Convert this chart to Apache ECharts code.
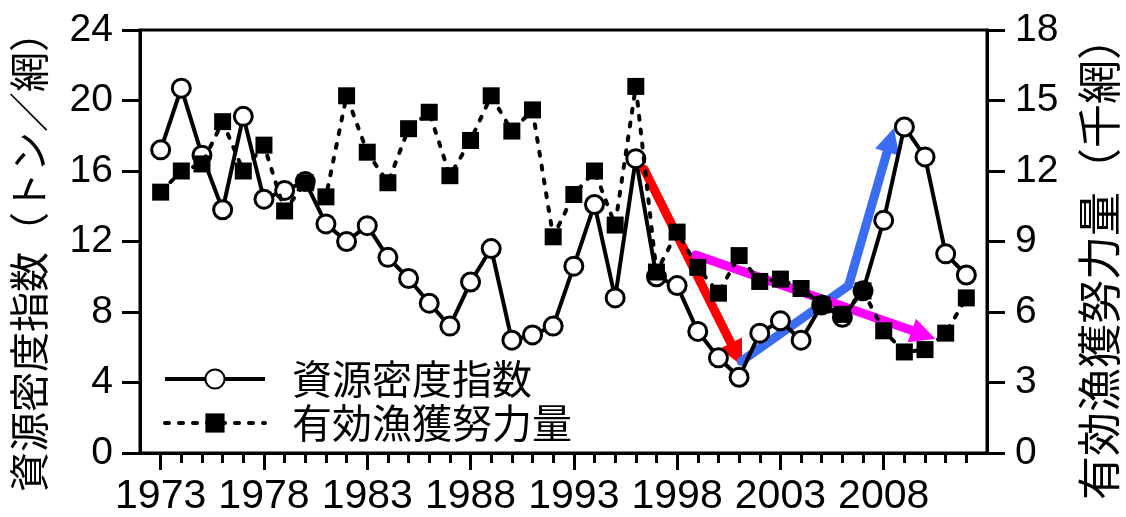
<!DOCTYPE html>
<html>
<head>
<meta charset="utf-8">
<script src="https://cdn.jsdelivr.net/npm/echarts@6/dist/echarts.min.js"></script>
<style>
  html, body { margin: 0; padding: 0; background: #fff; }
  #chart { width: 1126px; height: 517px; }
</style>
</head>
<body>
<div id="chart"></div>
<script>
// Survey years
const years = [];
for (let y = 1973; y <= 2012; y++) years.push(y);

// 資源密度指数 (トン/網)
const densityIndex = [
  17.2, 20.7, 16.9, 13.8, 19.1, 14.4, 14.9, 15.4, 13.0, 12.0,
  12.9, 11.1, 9.9, 8.5, 7.2, 9.7, 11.6, 6.4, 6.7, 7.2,
  10.6, 14.1, 8.8, 16.7, 10.0, 9.5, 6.9, 5.4, 4.3, 6.8,
  7.5, 6.4, 8.4, 7.7, 9.2, 13.2, 18.5, 16.8, 11.3, 10.1
];

// 有効漁獲努力量 (千網)
const fishingEffort = [
  11.1, 12.0, 12.3, 14.1, 12.0, 13.1, 10.3, 11.5, 10.9, 15.2,
  12.8, 11.5, 13.8, 14.5, 11.8, 13.3, 15.2, 13.7, 14.6, 9.2,
  11.0, 12.0, 9.7, 15.6, 7.7, 9.4, 7.9, 6.8, 8.4, 7.3,
  7.4, 7.0, 6.3, 5.9, 6.9, 5.2, 4.3, 4.4, 5.1, 6.6
];

// Axis ticks and labels
const yearLabels = [1973, 1978, 1983, 1988, 1993, 1998, 2003, 2008];
const densityTicks = [0, 4, 8, 12, 16, 20, 24];
const effortTicks = [0, 3, 6, 9, 12, 15, 18];

// Trend arrows, in [year, value] units
const redArrow = [[1996.4, 16.1], [2000.87, 5.6]];              // density, left axis
const blueArrowBase = [[2001.1, 5.2], [2006.3, 9.5]];           // density, left axis
const blueArrowHead = [[2006.3, 9.5], [2008.33, 17.76]];        // density, left axis
const magentaArrow = [[1998.9, 8.43], [2009.93, 5.04]];         // effort, right axis

const FONT = '"Noto Sans CJK JP", "Noto Sans", sans-serif';
const NUM_FONT = '"Liberation Sans", Arial, sans-serif';

const chart = echarts.init(document.getElementById('chart'), null, { renderer: 'canvas' });

const arrowSeries = (name, coords, color, yIdx, withHead) => ({
  name: name,
  type: 'lines',
  coordinateSystem: 'cartesian2d',
  xAxisIndex: 0,
  yAxisIndex: yIdx,
  z: 1,
  silent: true,
  symbol: ['none', withHead ? 'triangle' : 'none'],
  symbolSize: 25,
  lineStyle: { color: color, width: 9, opacity: 1, curveness: 0, cap: 'round' },
  itemStyle: { color: color },
  data: [{ coords: coords }]
});

chart.setOption({
  animation: false,
  textStyle: { fontFamily: FONT, color: '#000' },
  grid: {
    left: 140, right: 139, top: 30, bottom: 62,
    show: true, borderColor: '#000', borderWidth: 3, backgroundColor: 'transparent'
  },
  legend: {
    orient: 'vertical',
    left: 163,
    top: 358,
    padding: 0,
    itemWidth: 100,
    itemHeight: 24,
    itemGap: 2,
    data: ['資源密度指数', '有効漁獲努力量'],
    lineStyle: { width: 4 },
    textStyle: { fontFamily: FONT, fontSize: 40, color: '#000', lineHeight: 42, padding: [0, 0, 0, 22] },
    selectedMode: false
  },
  xAxis: [
    {
      type: 'value', min: 1972, max: 2013, interval: 1, position: 'bottom',
      axisLine: { show: true, lineStyle: { color: '#000', width: 3 } },
      axisTick: { show: true, inside: false, length: 10, customValues: years, lineStyle: { color: '#000', width: 3 } },
      axisLabel: { show: false },
      splitLine: { show: false }
    },
    {
      type: 'value', min: 1972, max: 2013, interval: 1, position: 'bottom',
      axisLine: { show: false },
      axisTick: { show: true, inside: false, length: 17, customValues: yearLabels, lineStyle: { color: '#000', width: 3 } },
      axisLabel: {
        show: true, customValues: yearLabels, fontSize: 41, margin: 23, color: '#000', fontFamily: NUM_FONT,
        formatter: v => String(v)
      },
      splitLine: { show: false }
    }
  ],
  yAxis: [
    {
      type: 'value', min: densityTicks[0], max: densityTicks[densityTicks.length - 1], interval: 4, position: 'left',
      axisLine: { show: true, lineStyle: { color: '#000', width: 3 } },
      axisTick: { show: true, inside: false, length: 18, lineStyle: { color: '#000', width: 3 } },
      axisLabel: { fontSize: 39, margin: 27, color: '#000', fontFamily: NUM_FONT },
      splitLine: { show: false }
    },
    {
      type: 'value', min: effortTicks[0], max: effortTicks[effortTicks.length - 1], interval: 3, position: 'right',
      axisLine: { show: true, lineStyle: { color: '#000', width: 3 } },
      axisTick: { show: true, inside: false, length: 18, lineStyle: { color: '#000', width: 3 } },
      axisLabel: { fontSize: 39, margin: 28, color: '#000', fontFamily: NUM_FONT },
      splitLine: { show: false }
    }
  ],
  graphic: [
    {
      type: 'text', x: 29, y: 252, rotation: Math.PI / 2,
      style: { text: '資源密度指数（トン／網）', fontSize: 40, fontFamily: FONT, fill: '#000', align: 'center', verticalAlign: 'middle' }
    },
    {
      type: 'text', x: 1099, y: 258, rotation: Math.PI / 2,
      style: { text: '有効漁獲努力量（千網）', fontSize: 44, fontFamily: FONT, fill: '#000', align: 'center', verticalAlign: 'middle' }
    }
  ],
  series: [
    arrowSeries('trendDown', redArrow, '#ff0000', 0, true),
    arrowSeries('trendUpBase', blueArrowBase, '#3a6cf4', 0, false),
    arrowSeries('trendUp', blueArrowHead, '#3a6cf4', 0, true),
    arrowSeries('effortTrend', magentaArrow, '#ff00ff', 1, true),
    {
      name: '資源密度指数',
      type: 'line',
      xAxisIndex: 0, yAxisIndex: 0,
      z: 2,
      data: years.map((y, i) => [y, densityIndex[i]]),
      symbol: 'circle',
      symbolSize: 18,
      showAllSymbol: true,
      lineStyle: { color: '#000', width: 4 },
      itemStyle: { color: '#fff', borderColor: '#000', borderWidth: 3 },
      emphasis: { disabled: true }
    },
    {
      name: '有効漁獲努力量',
      type: 'line',
      xAxisIndex: 0, yAxisIndex: 1,
      z: 3,
      data: years.map((y, i) => [y, fishingEffort[i]]),
      symbol: 'rect',
      symbolSize: 17,
      showAllSymbol: true,
      lineStyle: { color: '#000', width: 4, type: [4, 10], cap: 'round' },
      itemStyle: { color: '#000', borderWidth: 0 },
      emphasis: { disabled: true }
    }
  ]
});
</script>
</body>
</html>
